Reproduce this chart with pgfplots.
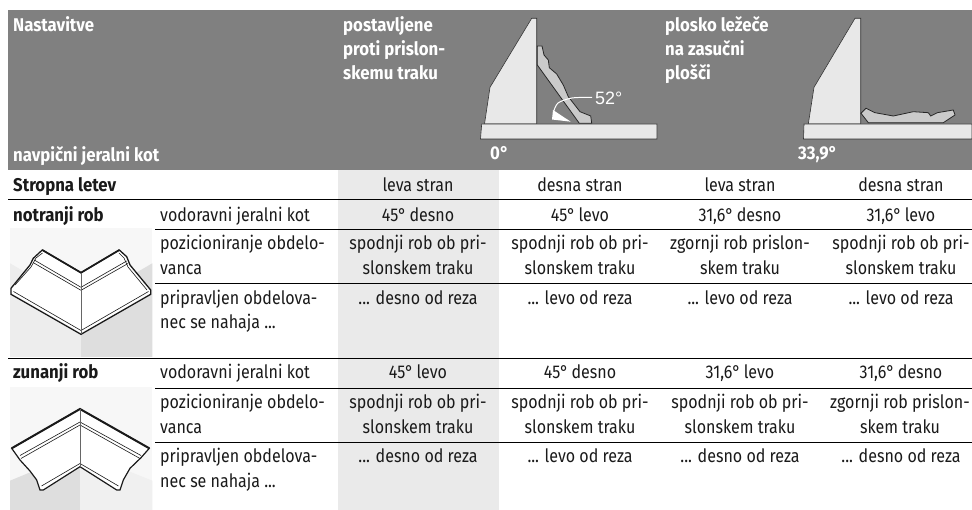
\documentclass[border=0pt]{standalone}
\usepackage{pgfplots}
\pgfplotsset{compat=1.18}
\usepackage{fontspec}
\setmainfont[FakeStretch=0.87,BoldFeatures={FakeStretch=0.91}]{Fira Sans}
\definecolor{hdr}{HTML}{808080}
\definecolor{col}{HTML}{EAEAEA}
\definecolor{ink}{HTML}{1A1A1A}
\definecolor{fen}{HTML}{E8E8E8}
\definecolor{mld}{HTML}{CACACA}
\definecolor{edge}{HTML}{333333}
\newcommand{\fs}{\fontsize{18.5}{22}\selectfont}
\newcommand{\tl}[3]{\node[anchor=base west,inner sep=0pt,text=ink,font=\fs] at (axis cs:#1,#2) {#3};}
\newcommand{\tc}[3]{\node[anchor=base,inner sep=0pt,text=ink,font=\fs] at (axis cs:#1,#2) {#3};}
\newcommand{\bl}[3]{\node[anchor=base west,inner sep=0pt,text=ink,font=\fs\bfseries] at (axis cs:#1,#2) {#3};}
\newcommand{\wh}[3]{\node[anchor=base west,inner sep=0pt,text=white,font=\fs\bfseries] at (axis cs:#1,#2) {#3};}
\begin{document}
\begin{tikzpicture}
\begin{axis}[hide axis,scale only axis,width=972bp,height=510bp,xmin=0,xmax=972,ymin=0,ymax=510,y dir=reverse,clip=true,no markers]
% page
\addplot[fill=white,draw=none] coordinates {(0,0)(972,0)(972,510)(0,510)} --cycle;
% header
\addplot[fill=hdr,draw=none] coordinates {(8,10)(972,10)(972,170)(8,170)} --cycle;
% shaded column
\addplot[fill=col,draw=none] coordinates {(338,170)(498.5,170)(498.5,510)(338,510)} --cycle;
% fence 1
\addplot[fill=fen,draw=edge,line width=0.6pt] coordinates {(484.5,124)(490,87.3)(531.7,18.3)(536.7,18.3)(536.7,124)} --cycle;
\addplot[fill=fen,draw=edge,line width=0.6pt] coordinates {(481.7,124)(657,124)(657,139)(480.5,139)} --cycle;
\addplot[fill=mld,draw=black!85,line width=0.8pt] coordinates {(537.3,46)(542,46)(544,55)(548.3,60)(549.3,67.7)(556.7,74)(563.3,85)(568.3,96.7)(580,111.7)(590.7,116)(591.7,123.3)(579.3,123.3)(537.3,65)} --cycle;
\addplot[white,line width=1pt,smooth] coordinates {(592,97.3)(572,98)(558,103)(553.5,112)};
\addplot[fill=white,draw=none] coordinates {(553,110)(570.7,121.7)(552,119.5)} --cycle;
% fence 2
\addplot[fill=fen,draw=edge,line width=0.6pt] coordinates {(808.3,124)(814,87.3)(855,18.3)(860.7,18.3)(860.7,124)} --cycle;
\addplot[fill=fen,draw=edge,line width=0.6pt] coordinates {(804,124)(972,124)(972,139)(803.5,139)} --cycle;
\addplot[fill=mld,draw=black!85,line width=0.8pt] coordinates {(861,113.3)(866,108.3)(875,112.7)(893.3,116)(913.3,111.7)(928.3,112.7)(930.7,116)(937.3,112.7)(953.3,110)(955,115)(943.3,122.7)(868.3,122.7)} --cycle;
% icon 1 background
\addplot[fill=black!3,draw=none] coordinates {(10,228.3)(152.3,228.3)(152.3,357)(10,357)} --cycle;
\addplot[fill=black!7,draw=none] coordinates {(10,263.3)(81,305)(81,357)(10,357)} --cycle;
\addplot[fill=black!13,draw=none] coordinates {(152.3,263.3)(81,305)(81,357)(152.3,357)} --cycle;
% icon 1 moulding
\addplot[fill=white,draw=ink,line width=1.3pt] coordinates {(42.3,250)(81,272.7)(119.3,250)(126.7,256.7)(130,265)(150.7,290)(150.7,294.3)(81,334.3)(11,294.3)(11,288.3)(30,265)(33.3,258.3)} --cycle;
\addplot[ink,line width=1.7pt] coordinates {(42.3,250)(81,272.7)(119.3,250)};
\addplot[ink,line width=0.6pt] coordinates {(34.3,260)(81,287.3)(126.7,261)};
\addplot[ink,line width=0.6pt] coordinates {(33,262.5)(81,290.3)(128,263.5)};
\addplot[ink,line width=0.6pt] coordinates {(13.5,291.5)(81,330.5)(148.5,291.5)};
\addplot[ink,line width=0.6pt] coordinates {(15,285)(31,267)(36,258)(42.5,253)};
\addplot[ink,line width=0.6pt] coordinates {(147,290)(128,267)(124,258)(119,253)};
\addplot[black!60,line width=0.9pt] coordinates {(81,272.7)(81,334.3)};
% icon 2 background
\addplot[fill=black!3,draw=none] coordinates {(10,387)(152.3,387)(152.3,510)(10,510)} --cycle;
\addplot[fill=black!13,draw=none] coordinates {(10,480.7)(80,451.7)(80,510)(10,510)} --cycle;
\addplot[fill=black!6,draw=none] coordinates {(152.3,480.7)(80,451.7)(80,510)(152.3,510)} --cycle;
% icon 2 moulding
\addplot[fill=white,draw=ink,line width=1.2pt] coordinates {(80,409)(149.3,448.3)(141,457.7)(130,468.3)(123.3,480)(120,490)(116.7,490)(80,466.7)(43.3,490)(40,490)(36.7,480)(30,471)(20,460)(11.7,448.3)} --cycle;
\addplot[ink,line width=2pt] coordinates {(11.7,448.3)(80,409)(149.3,448.3)};
\addplot[ink,line width=0.6pt] coordinates {(20,455.5)(80,422)(141,455.5)};
\addplot[ink,line width=0.6pt] coordinates {(21,458.5)(80,425)(140,458.5)};
\addplot[ink,line width=0.6pt] coordinates {(41.5,486)(80,463.5)(118.5,486)};
\addplot[black!60,line width=0.9pt] coordinates {(80,409)(80,466.7)};
% rules
\addplot[black,line width=0.8pt] coordinates {(8,199.3)(972,199.3)};
\addplot[black,line width=0.8pt] coordinates {(8,358.3)(972,358.3)};
\addplot[black,line width=0.6pt] coordinates {(155,229.8)(972,229.8)};
\addplot[black,line width=0.6pt] coordinates {(155,283.3)(972,283.3)};
\addplot[black,line width=0.6pt] coordinates {(155,388.3)(972,388.3)};
\addplot[black,line width=0.6pt] coordinates {(155,442.3)(972,442.3)};
% header text
\wh{13}{31.5}{Nastavitve}
\wh{343}{32}{postavljene}
\wh{343}{56}{proti prislon-}
\wh{343}{80}{skemu traku}
\wh{665}{32}{plosko ležeče}
\wh{665}{56}{na zasučni}
\wh{665}{80}{plošči}
\wh{13}{162}{navpični jeralni kot}
\wh{490}{160}{0°}
\wh{798}{160}{33,9°}
\node[anchor=base west,inner sep=0pt,text=white,font=\fontspec{Liberation Sans}\fontsize{18}{20}\selectfont] at (axis cs:595,104.5) {52°};
% Stropna letev
\bl{13}{192}{Stropna letev}
\tc{418}{192}{leva stran}\tc{580}{192}{desna stran}\tc{740}{192}{leva stran}\tc{901}{192}{desna stran}
% notranji
\bl{13}{222}{notranji rob}
\tl{160}{222}{vodoravni jeralni kot}
\tc{418}{222}{45°\,desno}\tc{580}{222}{45°\,levo}\tc{740}{222}{31,6°\,desno}\tc{901}{222}{31,6°\,levo}
\tl{160}{250}{pozicioniranje obdelo-}\tl{160}{275}{vanca}
\tc{418}{250}{spodnji rob ob pri-}\tc{418}{275}{slonskem traku}
\tc{580}{250}{spodnji rob ob pri-}\tc{580}{275}{slonskem traku}
\tc{740}{250}{zgornji rob prislon-}\tc{740}{275}{skem traku}
\tc{901}{250}{spodnji rob ob pri-}\tc{901}{275}{slonskem traku}
\tl{160}{305}{pripravljen obdelova-}\tl{160}{329}{nec se nahaja ...}
\tc{418}{305}{... desno od reza}\tc{580}{305}{... levo od reza}\tc{740}{305}{... levo od reza}\tc{901}{305}{... levo od reza}
% zunanji
\bl{13}{379}{zunanji rob}
\tl{160}{379}{vodoravni jeralni kot}
\tc{418}{379}{45°\,levo}\tc{580}{379}{45°\,desno}\tc{740}{379}{31,6°\,levo}\tc{901}{379}{31,6°\,desno}
\tl{160}{409}{pozicioniranje obdelo-}\tl{160}{434}{vanca}
\tc{418}{409}{spodnji rob ob pri-}\tc{418}{434}{slonskem traku}
\tc{580}{409}{spodnji rob ob pri-}\tc{580}{434}{slonskem traku}
\tc{740}{409}{spodnji rob ob pri-}\tc{740}{434}{slonskem traku}
\tc{900}{409}{zgornji rob prislon-}\tc{900}{434}{skem traku}
\tl{160}{463}{pripravljen obdelova-}\tl{160}{488}{nec se nahaja ...}
\tc{418}{463}{... desno od reza}\tc{580}{463}{... levo od reza}\tc{740}{463}{... desno od reza}\tc{901}{463}{... desno od reza}
\end{axis}
\end{tikzpicture}
\end{document}
